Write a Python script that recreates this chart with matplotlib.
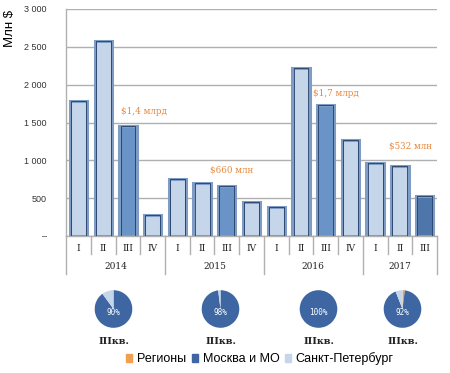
import numpy as np
import matplotlib
matplotlib.use("Agg")
import matplotlib.pyplot as plt
import matplotlib.transforms as mtransforms
from matplotlib.patches import Patch

plt.rcParams["font.family"] = ["Liberation Sans", "DejaVu Sans"]

years = ["2014", "2015", "2016", "2017"]
quarters = ["I", "II", "III", "IV", "I", "II", "III", "IV",
            "I", "II", "III", "IV", "I", "II", "III"]
values = [1790, 2575, 1450, 280, 750, 695, 660, 450,
          380, 2215, 1725, 1270, 965, 925, 532]
group_sizes = [4, 4, 4, 3]
notes = ["$1,4 млрд", "$660 млн", "$1,7 млрд", "$532 млн"]
note_pos = [(2.65, 1650), (6.2, 875), (10.4, 1890), (13.45, 1190)]

pie_labels = ["Регионы", "Москва и МО", "Санкт-Петербург"]
pie_shares = [[0, 90, 10], [0, 98, 2], [0, 100, 0], [2, 92, 6]]
pie_text = ["90%", "98%", "100%", "92%"]

light = "#c5d5ea"
mid = "#6a93c8"
dark = "#4e76aa"
orange = "#e8863a"
pie_cols = ["#f0a050", "#3d66a2", light]

fig = plt.figure(figsize=(4.5, 3.73), dpi=100)
ax = fig.add_axes([0.147, 0.367, 0.824, 0.609])

x = np.arange(len(values))
colors = [light] * len(values)
for i, q in enumerate(quarters):
    if q == "III":
        colors[i] = mid
colors[-1] = dark
ax.bar(x, values, width=0.7, color=colors, edgecolor="#7f9cc4", linewidth=2.2, zorder=3)
ax.bar(x, values, width=0.6, color="none", edgecolor="#1f3a66", linewidth=0.6, zorder=4)

ax.set_xlim(-0.5, len(values) - 0.5)
ax.set_ylim(0, 3000)
ax.set_yticks(np.arange(0, 3001, 500))
ax.set_yticklabels(["–"] + [f"{v:,}".replace(",", " ") for v in range(500, 3001, 500)],
                   fontsize=6.5, color="#333333")
ax.tick_params(axis="y", length=0, pad=14)
ax.set_xticks([])
ax.grid(axis="y", color="#b0b0b0", linewidth=1.0, zorder=0)
for s in ["top", "right"]:
    ax.spines[s].set_visible(False)
ax.spines["left"].set_color("#b0b0b0")
ax.spines["bottom"].set_color("#b0b0b0")
ax.spines["left"].set_linewidth(1.0)
ax.spines["bottom"].set_linewidth(1.0)
ax.set_ylabel("Млн $", fontsize=9.5)
ax.yaxis.set_label_coords(-0.135, 0.915)

trans = mtransforms.blended_transform_factory(ax.transData, ax.transAxes)
for i, q in enumerate(quarters):
    ax.text(i, -0.055, q, transform=trans, ha="center", va="center",
            fontsize=6.5, family="DejaVu Serif", color="#222222")
bounds = np.cumsum([0] + group_sizes)
for b in range(len(values) + 1):
    xb = b - 0.5
    depth = -0.165 if b in bounds else -0.08
    ax.plot([xb, xb], [0, depth], transform=trans, color="#b0b0b0",
            linewidth=1.0, clip_on=False)
for k, yr in enumerate(years):
    mid_x = (bounds[k] + bounds[k + 1] - 1) / 2
    ax.text(mid_x, -0.135, yr, transform=trans, ha="center", va="center",
            fontsize=6.5, family="DejaVu Serif", color="#222222")

for t, (nx, ny) in zip(notes, note_pos):
    ax.text(nx, ny, t, ha="center", va="center", fontsize=6.3,
            family="DejaVu Serif", color=orange, zorder=5)

centers = [113.5, 220.5, 318.5, 402.5]
W, H = 450, 373
d = 47
for cx, shares, lab in zip(centers, pie_shares, pie_text):
    pax = fig.add_axes([(cx - d / 2) / W, 1 - (309 + d / 2) / H, d / W, d / H])
    pax.pie(shares, colors=pie_cols, startangle=90, counterclock=False,
            wedgeprops=dict(linewidth=0))
    pax.set_aspect("equal")
    pax.text(0, -0.2, lab, ha="center", va="center", fontsize=5.5,
             color="white", family="DejaVu Sans Mono")
    fig.text(cx / W, 1 - 341 / H, "IIIкв.", ha="center", va="center",
             fontsize=7, family="DejaVu Serif", fontweight="bold", color="#222222")

handles = [Patch(color=c) for c in pie_cols]
fig.legend(handles, pie_labels, loc="center", bbox_to_anchor=(260 / W, 1 - 359 / H),
           ncol=3, frameon=False, fontsize=9, handlelength=0.5, handleheight=0.5,
           handletextpad=0.4, columnspacing=0.4)

fig.savefig("out.png", dpi=100)
